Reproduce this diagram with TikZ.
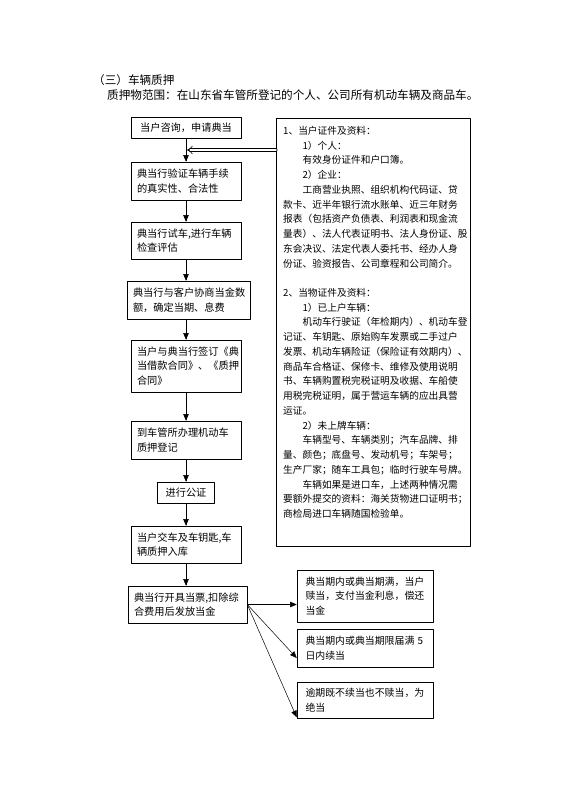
\documentclass[tikz,border=0pt]{standalone}
\usepackage{fontspec}
\setmainfont{Noto Sans CJK SC}
\usetikzlibrary{arrows,arrows.meta}

\begin{document}
\begin{tikzpicture}[line cap=round,line join=round,>=triangle 45,x=1pt,y=-1pt,
  stepbox/.style={draw,line width=0.6pt,text width=98pt,inner xsep=6pt,inner ysep=0pt,align=left,font=\fontsize{10.2pt}{14.5pt}\selectfont},
  endbox/.style={draw,line width=0.6pt,text width=119pt,inner xsep=8.5pt,inner ysep=0pt,align=left,font=\fontsize{9.9pt}{14.5pt}\selectfont},
  notes/.style={anchor=north west,inner sep=0pt,align=left,font=\fontsize{9.7pt}{14.75pt}\selectfont},
  headline/.style={anchor=west,inner sep=0pt,font=\fontsize{11.6pt}{14pt}\selectfont}]
\useasboundingbox (0,0) rectangle (565,800);
\node[headline] (head) at (93,80) {（三）车辆质押};
\node[headline] (range) at (107,95) {质押物范围：在山东省车管所登记的个人、公司所有机动车辆及商品车。};
\node[stepbox,align=center,minimum height=21pt] (ask) at (186,128) {当户咨询，申请典当};
\node[stepbox,minimum height=38pt] (verify) at (186,181) {典当行验证车辆手续\\的真实性、合法性};
\node[stepbox,minimum height=37pt] (test) at (186,240.5) {典当行试车,进行车辆\\检查评估};
\node[stepbox,text width=111pt,minimum height=38pt] (talk) at (188.5,300) {典当行与客户协商当金数\\额，确定当期、息费};
\node[stepbox,minimum height=52pt] (sign) at (186,366) {当户与典当行签订《典\\当借款合同》、《质押\\合同》};
\node[stepbox,minimum height=38pt] (register) at (186,440) {到车管所办理机动车\\质押登记};
\node[stepbox,text width=45pt,align=center,minimum height=21pt] (notary) at (186,492.5) {进行公证};
\node[stepbox,minimum height=37pt] (store) at (186,544.5) {当户交车及车钥匙,车\\辆质押入库};
\node[stepbox,text width=107pt,minimum height=37pt] (pawn) at (187.5,604.5) {典当行开具当票,扣除综\\合费用后发放当金};
\node[draw,line width=0.6pt,minimum width=194pt,minimum height=428pt] (docs) at (373,332) {};
\node[notes] (owner) at (283,126) {1、当户证件及资料：\\
\hspace*{2em}1）个人：\\
\hspace*{2em}有效身份证件和户口簿。\\
\hspace*{2em}2）企业：\\
\hspace*{2em}工商营业执照、组织机构代码证、贷\\
款卡、近半年银行流水账单、近三年财务\\
报表（包括资产负债表、利润表和现金流\\
量表）、法人代表证明书、法人身份证、股\\
东会决议、法定代表人委托书、经办人身\\
份证、验资报告、公司章程和公司简介。};
\node[notes] (goods) at (283,288) {2、当物证件及资料：\\
\hspace*{2em}1）已上户车辆：\\
\hspace*{2em}机动车行驶证（年检期内）、机动车登\\
记证、车钥匙、原始购车发票或二手过户\\
发票、机动车辆险证（保险证有效期内）、\\
商品车合格证、保修卡、维修及使用说明\\
书、车辆购置税完税证明及收据、车船使\\
用税完税证明，属于营运车辆的应出具营\\
运证。\\
\hspace*{2em}2）未上牌车辆：\\
\hspace*{2em}车辆型号、车辆类别；汽车品牌、排\\
量、颜色；底盘号、发动机号；车架号；\\
生产厂家；随车工具包；临时行驶车号牌。\\
\hspace*{2em}车辆如果是进口车，上述两种情况需\\
要额外提交的资料：海关货物进口证明书；\\
商检局进口车辆随国检验单。};
\node[endbox,minimum height=52pt] (redeem) at (365,596) {典当期内或典当期满，当户\\赎当，支付当金利息，偿还\\当金};
\node[endbox,minimum height=38pt] (renew) at (365,648) {典当期内或典当期限届满 5\\日内续当};
\node[endbox,minimum height=36pt] (forfeit) at (365,700) {逾期既不续当也不赎当，为\\绝当};
\foreach \a/\b in {ask/verify,verify/test,test/talk,talk/sign,sign/register,register/notary,notary/store,store/pawn}
  \draw[->,line width=0.5pt] (\a.south -| ask) -- (\b.north -| ask);
\coordinate (join) at (187,150);
\draw[double,double distance=2.4pt,line width=0.6pt,-{Implies[scale=1.8]}] (docs.west |- join) -- (join);
\draw[->,line width=0.5pt] (pawn.east) -- (pawn.east -| redeem.west);
\draw[->,line width=0.5pt] (pawn.east) -- ([yshift=-10pt]renew.west);
\draw[->,line width=0.5pt] (pawn.east) -- ([yshift=1pt]forfeit.south west);
\end{tikzpicture}
\end{document}
